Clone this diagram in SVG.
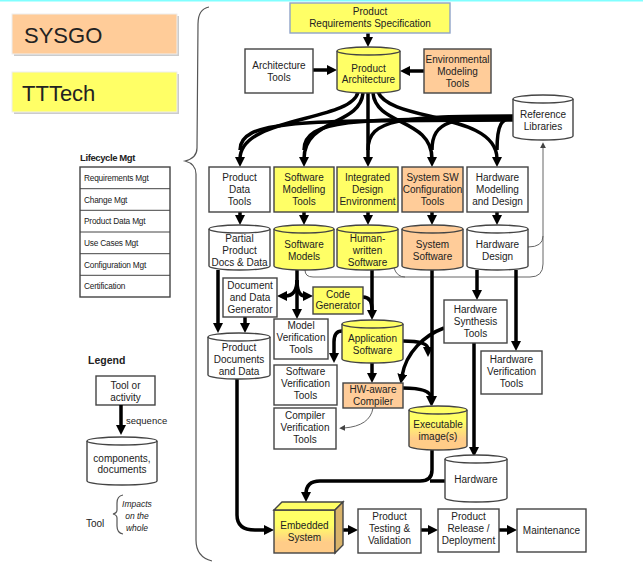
<svg xmlns="http://www.w3.org/2000/svg" width="643" height="563" viewBox="0 0 643 563">
<defs>
<style>
text{font-family:"Liberation Sans",Arial,sans-serif;font-size:10px;fill:#222;text-anchor:middle}
.box{stroke:#444;stroke-width:1.4}
.w{fill:#fff}.y{fill:#ffff66}.p{fill:#ffcc99}
.c{fill:none;stroke:#000;stroke-width:3.5}
.t{fill:none;stroke:#666;stroke-width:1}
.lt{font-size:8.3px;text-anchor:start;letter-spacing:-0.2px}
.brace{fill:none;stroke:#555;stroke-width:1.2}
</style>
<marker id="ah" markerUnits="userSpaceOnUse" markerWidth="10" markerHeight="10" viewBox="0 0 10 10" refX="2" refY="5" orient="auto"><path d="M0,0 L10,5 L0,10 z" fill="#000"/></marker>
<marker id="ag" markerUnits="userSpaceOnUse" markerWidth="6" markerHeight="6" viewBox="0 0 10 10" refX="2" refY="5" orient="auto"><path d="M0,0 L10,5 L0,10 z" fill="#444"/></marker>
<linearGradient id="yp" x1="0" y1="0" x2="0" y2="1"><stop offset="0.35" stop-color="#ffff66"/><stop offset="0.75" stop-color="#ffcc88"/></linearGradient>
</defs>
<rect x="0" y="0" width="643" height="1.5" fill="#80ffff"/>

<g id="company-legend">
<rect x="14" y="16" width="165" height="40" fill="#ccc"/>
<rect x="12" y="14" width="165" height="40" fill="#ffcc99" stroke="#eee" stroke-width="1"/>
<text x="24" y="43" style="font-size:22px;text-anchor:start">SYSGO</text>
<rect x="14" y="74" width="165" height="40" fill="#ccc"/>
<rect x="12" y="72" width="165" height="40" fill="#ffff66" stroke="#eee" stroke-width="1"/>
<text x="22" y="101" style="font-size:22px;text-anchor:start">TTTech</text>
</g>

<g id="lifecycle">
<text x="80" y="161" style="font-size:9.5px;font-weight:bold;text-anchor:start;letter-spacing:-0.4px">Lifecycle Mgt</text>
<rect x="80" y="167" width="90" height="130" class="box w" stroke-width="1.2"/>
<path d="M80,188.7H170M80,210.3H170M80,232H170M80,253.7H170M80,275.3H170" stroke="#444" stroke-width="1"/>
<text x="84" y="181" class="lt">Requirements Mgt</text>
<text x="84" y="203" class="lt">Change Mgt</text>
<text x="84" y="224" class="lt">Product Data Mgt</text>
<text x="84" y="246" class="lt">Use Cases Mgt</text>
<text x="84" y="268" class="lt">Configuration Mgt</text>
<text x="84" y="289" class="lt">Certification</text>
</g>

<g id="legend">
<text x="88" y="364" style="font-size:10.5px;font-weight:bold;text-anchor:start">Legend</text>
<rect x="96" y="376" width="59" height="29" class="box w"/>
<text x="125.5" y="389">Tool or</text>
<text x="125.5" y="401">activity</text>
<path d="M121,405 L121,427" class="c" marker-end="url(#ah)"/>
<text x="126" y="424" style="font-size:9.5px;text-anchor:start">sequence</text>
<path d="M87,441 A35,4 0 0 1 157,441 L157,481 A35,4 0 0 1 87,481 Z" class="box w"/>
<path d="M87,441 A35,4 0 0 0 157,441" fill="none" stroke="#444" stroke-width="1.4"/>
<text x="122" y="462">components,</text>
<text x="122" y="473">documents</text>
<text x="86" y="527" style="text-anchor:start">Tool</text>
<path d="M123,495 Q117,496 117,503 L117,510 Q117,513 113,514 Q117,515 117,518 L117,526 Q117,533 123,534" class="brace" stroke-width="0.9"/>
<text x="137" y="507" style="font-size:8.5px;font-style:italic">Impacts</text>
<text x="137" y="519" style="font-size:8.5px;font-style:italic">on the</text>
<text x="137" y="531" style="font-size:8.5px;font-style:italic">whole</text>
</g>

<g id="main-brace">
<path d="M209,7 Q198,9 198,24 L197,148 Q197,158 185,161 Q196,164 196,174 L196,540 Q196,557 212,561" class="brace"/>
</g>

<g id="connectors">
<path d="M305,270 Q305,277 313,277 L530,277 Q543,277 543,264 L543,147" class="t" marker-end="url(#ag)"/>
<path d="M528,247 Q543,247 543,236" class="t"/>
<path d="M394,268 Q397,277 405,277" class="t"/>
<path d="M373,408 Q370,426 344,428" class="t" marker-end="url(#ag)"/>

<path d="M513,118 C502,118 497,124 497,150" class="c"/>
<path d="M513,117 C452,117 432,121 432,150" class="c"/>
<path d="M513,116 C400,116 368,119 368,150" class="c"/>
<path d="M513,119 C360,119 304,118 304,150" class="c"/>
<path d="M513,120 C310,121 240,118 240,150" class="c"/>

<path d="M368,33 L368,39" class="c" marker-end="url(#ah)"/>
<path d="M313,70 L329,70" class="c" marker-end="url(#ah)"/>
<path d="M424,71 L408,71" class="c" marker-end="url(#ah)"/>

<path d="M358,92 C352,122 240,116 240,159" class="c" marker-end="url(#ah)"/>
<path d="M363,93 C360,126 304,118 304,159" class="c" marker-end="url(#ah)"/>
<path d="M368,93 L368,159" class="c" marker-end="url(#ah)"/>
<path d="M373,93 C376,126 432,118 432,159" class="c" marker-end="url(#ah)"/>
<path d="M378,92 C390,122 497,112 497,159" class="c" marker-end="url(#ah)"/>

<path d="M240,212 L240,217" class="c" marker-end="url(#ah)"/>
<path d="M304,212 L304,217" class="c" marker-end="url(#ah)"/>
<path d="M368,212 L368,217" class="c" marker-end="url(#ah)"/>
<path d="M432,212 L432,217" class="c" marker-end="url(#ah)"/>
<path d="M497,212 L497,217" class="c" marker-end="url(#ah)"/>

<path d="M218,270 L218,325" class="c" marker-end="url(#ah)"/>
<path d="M245,317 L245,325" class="c" marker-end="url(#ah)"/>
<path d="M297,270 L297,311" class="c" marker-end="url(#ah)"/>
<path d="M297,280 Q297,296 285,296" class="c" marker-end="url(#ah)"/>
<path d="M297,280 Q297,296 305,296" class="c" marker-end="url(#ah)"/>
<path d="M372,270 L372,312" class="c" marker-end="url(#ah)"/>
<path d="M363,297 Q372,297 372,310" class="c"/>
<path d="M342,331 Q334,331 334,342 L334,355" class="c" marker-end="url(#ah)"/>
<path d="M372,363 L372,375" class="c" marker-end="url(#ah)"/>
<path d="M432,270 L432,398" class="c" marker-end="url(#ah)"/>
<path d="M403,341 Q428,341 428,349" class="c" marker-end="url(#ah)"/>
<path d="M444,328 C425,335 406,352 402,376" class="c" marker-end="url(#ah)"/>
<path d="M403,388 Q431,388 431,398" class="c" marker-end="url(#ah)"/>
<path d="M477,270 L477,292" class="c" marker-end="url(#ah)"/>
<path d="M516,270 L516,343" class="c" marker-end="url(#ah)"/>
<path d="M474,343 L474,449" class="c" marker-end="url(#ah)"/>
<path d="M432,450 L432,470 Q432,481 420,481 L320,481 Q306,481 306,494" class="c" marker-end="url(#ah)"/>
<path d="M445,481 L430,481" class="c"/>
<path d="M237,379 L237,515 Q237,530 255,530 L266,530" class="c" marker-end="url(#ah)"/>
<path d="M343,530 L350,530" class="c" marker-end="url(#ah)"/>
<path d="M421,530 L430,530" class="c" marker-end="url(#ah)"/>
<path d="M499,530 L509,530" class="c" marker-end="url(#ah)"/>
</g>

<g id="prs"><rect x="290" y="3" width="160" height="30" fill="#ffff66" stroke="#8fa3c8" stroke-width="1.4"/>
<text x="370" y="15">Product</text><text x="370" y="27">Requirements Specification</text></g>

<g id="arch-tools"><rect x="245" y="49" width="68" height="44" class="box w"/>
<text x="279" y="68.5">Architecture</text><text x="279" y="80.5">Tools</text></g>

<g id="product-architecture"><path d="M337,51 A31.5,4 0 0 1 400,51 L400,89 A31.5,4 0 0 1 337,89 Z" class="box y"/><path d="M337,51 A31.5,4 0 0 0 400,51" fill="none" stroke="#444" stroke-width="1.4"/>
<text x="368.5" y="72">Product</text><text x="368.5" y="83">Architecture</text></g>

<g id="env-tools"><rect x="424" y="49" width="67" height="44" class="box p"/>
<text x="457.5" y="62.5">Environmental</text><text x="457.5" y="74.5">Modeling</text><text x="457.5" y="86.5">Tools</text></g>

<g id="reference-libraries"><path d="M513,99 A30,4 0 0 1 573,99 L573,136 A30,4 0 0 1 513,136 Z" class="box w"/><path d="M513,99 A30,4 0 0 0 573,99" fill="none" stroke="#444" stroke-width="1.4"/>
<text x="543" y="118">Reference</text><text x="543" y="130">Libraries</text></g>

<g id="product-data-tools"><rect x="209" y="167" width="61" height="45" class="box w"/>
<text x="239.5" y="181">Product</text><text x="239.5" y="193">Data</text><text x="239.5" y="205">Tools</text></g>
<g id="sw-modelling-tools"><rect x="274" y="167" width="60" height="45" class="box y"/>
<text x="304" y="181">Software</text><text x="304" y="193">Modelling</text><text x="304" y="205">Tools</text></g>
<g id="ide"><rect x="337" y="167" width="61" height="45" class="box y"/>
<text x="367.5" y="181">Integrated</text><text x="367.5" y="193">Design</text><text x="367.5" y="205">Environment</text></g>
<g id="sys-sw-config"><rect x="402" y="167" width="61" height="45" class="box p"/>
<text x="432.5" y="181">System SW</text><text x="432.5" y="193">Configuration</text><text x="432.5" y="205">Tools</text></g>
<g id="hw-modelling"><rect x="467" y="167" width="61" height="45" class="box w"/>
<text x="497.5" y="181">Hardware</text><text x="497.5" y="193">Modelling</text><text x="497.5" y="205">and Design</text></g>

<g id="partial-product-docs"><path d="M209,229 A30.5,4 0 0 1 270,229 L270,266 A30.5,4 0 0 1 209,266 Z" class="box w"/><path d="M209,229 A30.5,4 0 0 0 270,229" fill="none" stroke="#444" stroke-width="1.4"/>
<text x="239.5" y="242">Partial</text><text x="239.5" y="254">Product</text><text x="239.5" y="266">Docs &amp; Data</text></g>
<g id="software-models"><path d="M274,229 A30,4 0 0 1 334,229 L334,266 A30,4 0 0 1 274,266 Z" class="box y"/><path d="M274,229 A30,4 0 0 0 334,229" fill="none" stroke="#444" stroke-width="1.4"/>
<text x="304" y="248">Software</text><text x="304" y="260">Models</text></g>
<g id="human-written-sw"><path d="M337,229 A30.5,4 0 0 1 398,229 L398,266 A30.5,4 0 0 1 337,266 Z" class="box y"/><path d="M337,229 A30.5,4 0 0 0 398,229" fill="none" stroke="#444" stroke-width="1.4"/>
<text x="367.5" y="242">Human-</text><text x="367.5" y="254">written</text><text x="367.5" y="266">Software</text></g>
<g id="system-software"><path d="M402,229 A30.5,4 0 0 1 463,229 L463,266 A30.5,4 0 0 1 402,266 Z" class="box p"/><path d="M402,229 A30.5,4 0 0 0 463,229" fill="none" stroke="#444" stroke-width="1.4"/>
<text x="432.5" y="248">System</text><text x="432.5" y="260">Software</text></g>
<g id="hardware-design"><path d="M467,229 A30.5,4 0 0 1 528,229 L528,266 A30.5,4 0 0 1 467,266 Z" class="box w"/><path d="M467,229 A30.5,4 0 0 0 528,229" fill="none" stroke="#444" stroke-width="1.4"/>
<text x="497.5" y="248">Hardware</text><text x="497.5" y="260">Design</text></g>

<g id="doc-data-generator"><rect x="223" y="278" width="54" height="39" class="box w"/>
<text x="250" y="289">Document</text><text x="250" y="301">and Data</text><text x="250" y="313">Generator</text></g>
<g id="code-generator"><rect x="313" y="287" width="50" height="27" class="box y"/>
<text x="338" y="298">Code</text><text x="338" y="309">Generator</text></g>
<g id="product-documents"><path d="M208,337 A31,4 0 0 1 270,337 L270,375 A31,4 0 0 1 208,375 Z" class="box w"/><path d="M208,337 A31,4 0 0 0 270,337" fill="none" stroke="#444" stroke-width="1.4"/>
<text x="239" y="351">Product</text><text x="239" y="363">Documents</text><text x="239" y="375">and Data</text></g>
<g id="model-verification"><rect x="274" y="319" width="54" height="40" class="box w"/>
<text x="301" y="329">Model</text><text x="301" y="341">Verification</text><text x="301" y="353">Tools</text></g>
<g id="application-software"><path d="M342,324 A30.5,4 0 0 1 403,324 L403,359 A30.5,4 0 0 1 342,359 Z" class="box y"/><path d="M342,324 A30.5,4 0 0 0 403,324" fill="none" stroke="#444" stroke-width="1.4"/>
<text x="372.5" y="342">Application</text><text x="372.5" y="354">Software</text></g>
<g id="sw-verification"><rect x="274" y="365" width="63" height="40" class="box w"/>
<text x="305.5" y="375">Software</text><text x="305.5" y="387">Verification</text><text x="305.5" y="399">Tools</text></g>
<g id="hw-aware-compiler"><rect x="343" y="383" width="60" height="25" class="box p"/>
<text x="373" y="393">HW-aware</text><text x="373" y="405">Compiler</text></g>
<g id="compiler-verification"><rect x="274" y="408" width="62" height="41" class="box w"/>
<text x="305" y="419">Compiler</text><text x="305" y="431">Verification</text><text x="305" y="443">Tools</text></g>
<g id="executable-images"><path d="M409,410 A29,4 0 0 1 467,410 L467,446 A29,4 0 0 1 409,446 Z" fill="url(#yp)" class="box"/><path d="M409,410 A29,4 0 0 0 467,410" fill="none" stroke="#444" stroke-width="1.4"/>
<text x="438" y="428">Executable</text><text x="438" y="440">image(s)</text></g>
<g id="hw-synthesis"><rect x="444" y="300" width="63" height="43" class="box w"/>
<text x="475.5" y="313">Hardware</text><text x="475.5" y="325">Synthesis</text><text x="475.5" y="337">Tools</text></g>
<g id="hw-verification"><rect x="481" y="351" width="61" height="43" class="box w"/>
<text x="511.5" y="363">Hardware</text><text x="511.5" y="375">Verification</text><text x="511.5" y="387">Tools</text></g>
<g id="hardware"><path d="M445,459 A31,4 0 0 1 507,459 L507,498 A31,4 0 0 1 445,498 Z" class="box w"/><path d="M445,459 A31,4 0 0 0 507,459" fill="none" stroke="#444" stroke-width="1.4"/>
<text x="476" y="483">Hardware</text></g>

<g id="embedded-system">
<rect x="274" y="510" width="61" height="43" fill="url(#yp)" class="box"/>
<path d="M274,510 L282,502 L343,502 L335,510 Z" fill="#ffff66" class="box"/>
<path d="M335,510 L343,502 L343,545 L335,553 Z" fill="#d9b36a" class="box"/>
<text x="304.5" y="529">Embedded</text><text x="304.5" y="541">System</text></g>
<g id="product-testing"><rect x="358" y="509" width="63" height="44" class="box w"/>
<text x="389.5" y="520">Product</text><text x="389.5" y="532">Testing &amp;</text><text x="389.5" y="544">Validation</text></g>
<g id="product-release"><rect x="438" y="509" width="61" height="43" class="box w"/>
<text x="468.5" y="520">Product</text><text x="468.5" y="532">Release /</text><text x="468.5" y="544">Deployment</text></g>
<g id="maintenance"><rect x="517" y="509" width="69" height="43" class="box w"/>
<text x="551.5" y="534">Maintenance</text></g>
</svg>
